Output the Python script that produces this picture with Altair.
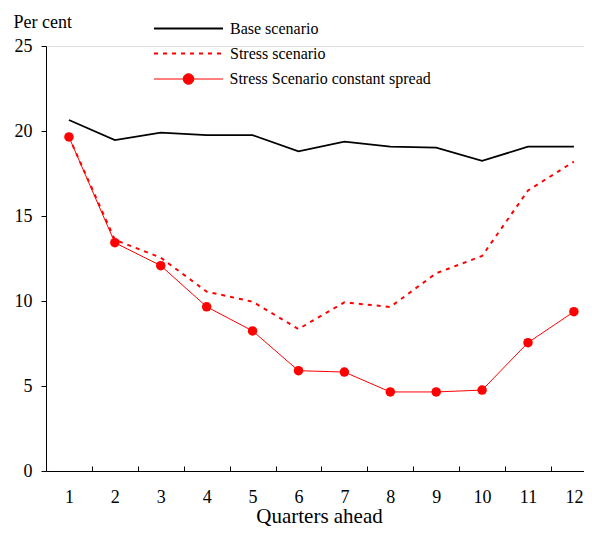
import altair as alt
import pandas as pd

# ---- data ----
quarters = list(range(1, 13))
base_scenario = [20.65, 19.47, 19.9, 19.76, 19.76, 18.8, 19.37, 19.08, 19.02, 18.24, 19.08, 19.08]
stress_scenario = [19.65, 13.6, 12.55, 10.55, 9.96, 8.35, 9.92, 9.65, 11.63, 12.65, 16.5, 18.2]
constant_spread = [19.65, 13.43, 12.08, 9.66, 8.24, 5.9, 5.82, 4.65, 4.65, 4.76, 7.55, 9.37]
series_names = ["Base scenario", "Stress scenario", "Stress Scenario constant spread"]
y_tick_values = [0, 5, 10, 15, 20, 25]
x_label_values = quarters
x_tick_values = [1.5, 2.5, 3.5, 4.5, 5.5, 6.5, 7.5, 8.5, 9.5, 10.5, 11.5]

rows = []
for name, vals in zip(series_names, [base_scenario, stress_scenario, constant_spread]):
    for q, v in zip(quarters, vals):
        rows.append({"quarter": q, "value": v, "series": name})
df = pd.DataFrame(rows)

FONT = "Liberation Serif"
W, H = 538, 425
LINE_SYM = "M-5,0L1,0"
LINE_DOT_SYM = "M-5,0L1,0M-1.54,0A0.46,0.46,0,1,0,-2.46,0A0.46,0.46,0,1,0,-1.54,0"

x_domain = alt.Scale(domain=[0.5, 12.22], nice=False, zero=False)

x_main = alt.X(
    "quarter:Q", scale=x_domain,
    axis=alt.Axis(
        orient="bottom", values=x_label_values, ticks=False, tickSize=0, grid=False,
        domainColor="black", domainWidth=1, labelFont=FONT, labelFontSize=18,
        labelColor="black", labelBaseline="alphabetic", labelPadding=31,
        labelFlush=False, labelOverlap=False,
        title="Quarters ahead", titleFont=FONT, titleFontSize=21,
        titleFontWeight="normal", titleColor="black", titleBaseline="alphabetic",
        titleY=51, titleX=273,
    ),
)
x_ticks = alt.X(
    "quarter:Q", scale=x_domain,
    axis=alt.Axis(
        orient="top", offset=-H, values=x_tick_values, labels=False, domain=False,
        ticks=True, tickSize=5, tickColor="black", tickWidth=1, grid=False, title=None,
    ),
)
x_none = alt.X("quarter:Q", scale=x_domain, axis=None)

y_enc = alt.Y(
    "value:Q",
    scale=alt.Scale(domain=[0, 25], nice=False, zero=True),
    axis=alt.Axis(
        values=y_tick_values, grid=False, domainColor="black", domainWidth=1,
        tickColor="black", tickSize=5, tickWidth=1,
        labelFont=FONT, labelFontSize=18, labelColor="black", labelPadding=9,
        title="Per cent", titleAngle=0, titleAlign="left", titleBaseline="alphabetic",
        titleX=-33, titleY=-19, titleFont=FONT, titleFontSize=18,
        titleFontWeight="normal", titleColor="black",
    ),
)

legend_common = dict(
    orient="none", title=None, padding=0, offset=0, symbolSize=529,
    labelFont=FONT, labelFontSize=16, labelColor="black", labelOffset=6,
    labelLimit=400, symbolOpacity=1,
)

base_layer = alt.Chart(df).transform_filter(
    alt.datum.series == series_names[0]
).mark_line(strokeWidth=1.7).encode(
    x=x_main,
    y=y_enc,
    stroke=alt.Stroke(
        "series:N",
        scale=alt.Scale(domain=[series_names[0]], range=["black"]),
        legend=alt.Legend(legendX=153, legendY=-30, symbolType=LINE_SYM,
                          symbolStrokeWidth=2, **legend_common),
    ),
)

stress_layer = alt.Chart(df).transform_filter(
    alt.datum.series == series_names[1]
).mark_line(strokeWidth=2, color="red").encode(
    x=x_ticks,
    y=y_enc,
    strokeDash=alt.StrokeDash(
        "series:N",
        scale=alt.Scale(domain=[series_names[1]], range=[[4, 5]]),
        legend=alt.Legend(legendX=153, legendY=-5, symbolType=LINE_SYM,
                          symbolStrokeWidth=2, symbolStrokeColor="red", **legend_common),
    ),
)

const_line = alt.Chart(df).transform_filter(
    alt.datum.series == series_names[2]
).mark_line(strokeWidth=1, color="red").encode(x=x_none, y=y_enc)

const_points = alt.Chart(df).transform_filter(
    alt.datum.series == series_names[2]
).mark_point(filled=True, size=90, opacity=1, shape="circle").encode(
    x=x_none,
    y=y_enc,
    fill=alt.Fill(
        "series:N",
        scale=alt.Scale(domain=[series_names[2]], range=["red"]),
        legend=alt.Legend(legendX=153.5, legendY=21, symbolType=LINE_DOT_SYM,
                          symbolStrokeWidth=1, symbolStrokeColor="red",
                          symbolFillColor="red", **legend_common),
    ),
)

chart = alt.layer(base_layer, stress_layer, const_line, const_points).resolve_axis(
    x="independent"
).resolve_legend(
    stroke="independent", strokeDash="independent", fill="independent"
).properties(
    width=W, height=H,
    autosize=alt.AutoSizeParams(type="none"),
    padding={"left": 38, "top": 38, "right": 0, "bottom": 55},
).configure_view(stroke=None).configure(background="white")

chart.save("out.html", embed_options={"renderer": "svg", "actions": False})
